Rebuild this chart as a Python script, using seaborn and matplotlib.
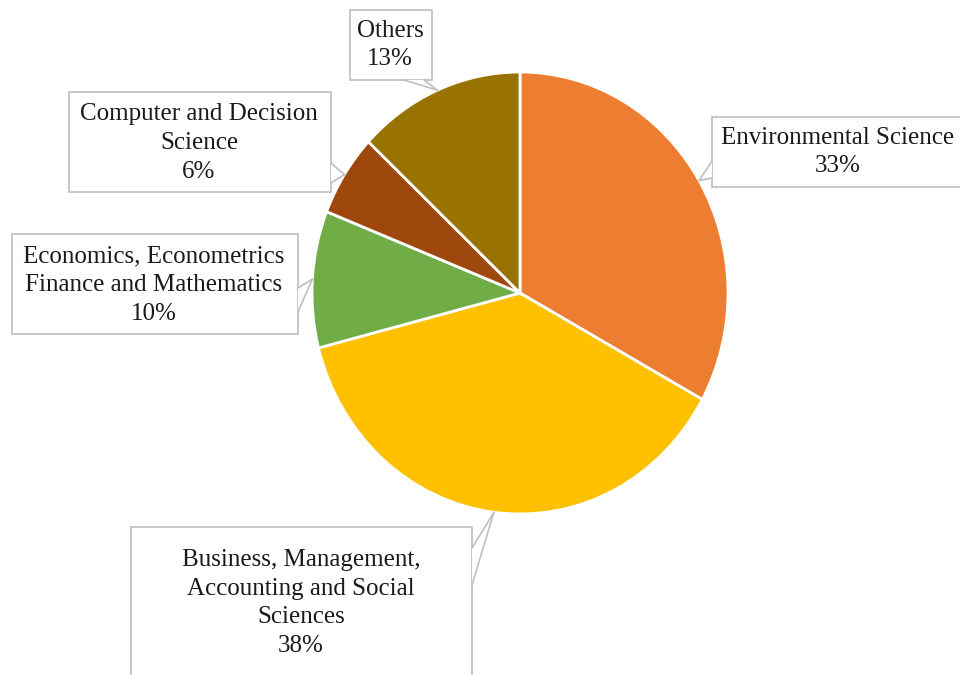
import numpy as np
import matplotlib
matplotlib.use('Agg')
import matplotlib.pyplot as plt
from matplotlib.patches import Rectangle, Polygon
import seaborn as sns

# Data
categories = ['Environmental Science',
              'Business, Management,\nAccounting and Social\nSciences',
              'Economics, Econometrics\nFinance and Mathematics',
              'Computer and Decision\nScience',
              'Others']
shares = [33, 38, 10, 6, 13]
colors = ['#ED7D31', '#FFC000', '#70AD47', '#9E480E', '#997300']

sns.set_theme(style='white')
plt.rcParams['font.family'] = ['Liberation Serif', 'DejaVu Serif']

fig = plt.figure(figsize=(9.6, 6.75), dpi=100)
fig.patch.set_facecolor('white')

# pie axes, slightly taller than wide like the original
ax = fig.add_axes([312 / 960, 1 - (293 + 221) / 675, 416 / 960, 442 / 675])
wedges, _ = ax.pie(shares, colors=sns.color_palette(colors), startangle=90,
                   counterclock=False, radius=1,
                   wedgeprops=dict(edgecolor='white', linewidth=2))
ax.set_xlim(-1, 1)
ax.set_ylim(-1, 1)
ax.set_aspect('auto')
ax.axis('off')

# overlay in pixel coords for the callouts
ov = fig.add_axes([0, 0, 1, 1], facecolor='none')
ov.set_xlim(0, 960)
ov.set_ylim(675, 0)
ov.axis('off')

# box layout: (x0, y0, x1, y1), text center, pointer base
boxes = [
    ((712, 117, 990, 187), (838, 152), ((712, 161), (712, 178))),
    ((131, 527, 472, 676), (301, 603), ((472, 548), (472, 585))),
    ((12, 234, 298, 334), (154, 285), ((298, 288), (298, 312))),
    ((69, 92, 331, 192), (199, 143), ((331, 163), (331, 183))),
    ((350, 10, 432, 80), (390, 45), ((404, 80), (424, 80))),
]

fig.canvas.draw()
to_ov = ov.transData.inverted()
for w, cat, pct, (bx, tc, base) in zip(wedges, categories, shares, boxes):
    mid = np.deg2rad((w.theta1 + w.theta2) / 2)
    tip_disp = ax.transData.transform((np.cos(mid), np.sin(mid)))
    tip = to_ov.transform(tip_disp)
    x0, y0, x1, y1 = bx
    ov.add_patch(Rectangle((x0, y0), x1 - x0, y1 - y0, facecolor='white',
                           edgecolor='#BFBFBF', linewidth=1.2, zorder=3,
                           clip_on=False))
    ov.add_patch(Polygon([base[0], base[1], tip], closed=True,
                         facecolor='white', edgecolor='none', zorder=4))
    for b in base:
        ov.plot([b[0], tip[0]], [b[1], tip[1]], color='#BFBFBF', lw=1.2,
                zorder=5)
    ov.text(tc[0], tc[1], f'{cat}\n{pct}%', ha='center', va='center',
            fontsize=18, color='#1a1a1a', linespacing=1.4, zorder=6)

plt.savefig('out.png', dpi=100)
